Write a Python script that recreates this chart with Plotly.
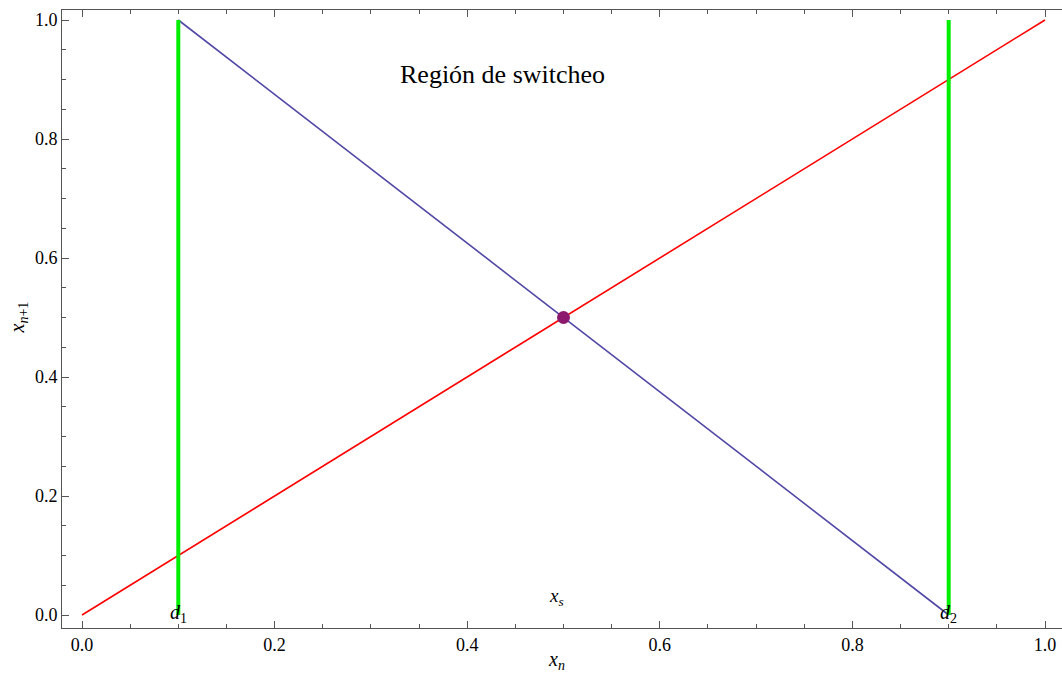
import plotly.graph_objects as go

# Data
identity_x = [0.0, 1.0]
identity_y = [0.0, 1.0]
map_x = [0.1, 0.9]
map_y = [1.0, 0.0]
d1_x = [0.1, 0.1]
d2_x = [0.9, 0.9]
green_y = [0.0, 1.0]
fixed_x = [0.5]
fixed_y = [0.5]
tick_vals = [0.0, 0.2, 0.4, 0.6, 0.8, 1.0]
tick_text = ["0.0", "0.2", "0.4", "0.6", "0.8", "1.0"]

FONT = "Liberation Serif"
AX = "#555555"

fig = go.Figure()
fig.add_trace(go.Scatter(x=identity_x, y=identity_y, mode="lines",
                         line=dict(color="rgb(255,0,0)", width=1.6), showlegend=False))
fig.add_trace(go.Scatter(x=map_x, y=map_y, mode="lines",
                         line=dict(color="rgb(80,72,165)", width=1.6), showlegend=False))
fig.add_trace(go.Scatter(x=d1_x, y=green_y, mode="lines",
                         line=dict(color="rgb(0,238,0)", width=4), showlegend=False))
fig.add_trace(go.Scatter(x=d2_x, y=green_y, mode="lines",
                         line=dict(color="rgb(0,238,0)", width=4), showlegend=False))
fig.add_trace(go.Scatter(x=fixed_x, y=fixed_y, mode="markers",
                         marker=dict(color="rgb(140,25,110)", size=13), showlegend=False))
# invisible trace for top axis
fig.add_trace(go.Scatter(x=identity_x, y=identity_y, xaxis="x2", mode="lines",
                         line=dict(width=0), opacity=0, showlegend=False, hoverinfo="skip"))

xr = [-20/963, 1 + 17/963]
yr = [-13/595, 1 + 10/595]

axis_common = dict(showgrid=False, zeroline=False, showline=True, linecolor=AX, linewidth=1,
                   ticks="inside", ticklen=7, tickcolor=AX, tickwidth=1,
                   tickfont=dict(family=FONT, size=18, color="black"),
                   minor=dict(ticks="inside", ticklen=4, tickcolor=AX, dtick=0.05, tick0=0, showgrid=False))

fig.update_layout(
    width=1062, height=681,
    margin=dict(l=62, r=0, t=10, b=53, autoexpand=False),
    plot_bgcolor="white", paper_bgcolor="white",
    xaxis=dict(range=xr, tickvals=tick_vals, ticktext=tick_text, **axis_common),
    xaxis2=dict(range=xr, overlaying="x", side="top", showticklabels=False,
                tickvals=tick_vals, **{k: v for k, v in axis_common.items() if k != "tickfont"}),
    yaxis=dict(range=yr, tickvals=tick_vals, ticktext=tick_text, **axis_common),
    annotations=[
        dict(x=0.437, y=0.908, xref="x", yref="y", text="Región de switcheo", showarrow=False,
             font=dict(family=FONT, size=26, color="black")),
        dict(x=0.493, y=0.03, xref="x", yref="y", text="<i>x<sub>s</sub></i>", showarrow=False,
             font=dict(family=FONT, size=19, color="black")),
        dict(x=0.1, y=0.003, xref="x", yref="y", text="<i>d</i><sub>1</sub>", showarrow=False,
             font=dict(family=FONT, size=20, color="black")),
        dict(x=0.9, y=0.003, xref="x", yref="y", text="<i>d</i><sub>2</sub>", showarrow=False,
             font=dict(family=FONT, size=20, color="black")),
        dict(x=0.493, y=-0.052, xref="x", yref="paper", text="<i>x<sub>n</sub></i>", showarrow=False,
             font=dict(family=FONT, size=20, color="black"), xanchor="center", yanchor="middle"),
        dict(x=-0.044, y=0.5, xref="paper", yref="y", text="<i>x<sub>n</sub></i><sub>+1</sub>",
             showarrow=False, textangle=-90, xanchor="center", yanchor="middle",
             font=dict(family=FONT, size=20, color="black")),
    ],
)

fig.write_html("out.html", config={"displayModeBar": False},
               post_script="document.body.style.margin='0';document.body.style.padding='0';document.body.style.overflow='hidden';")
